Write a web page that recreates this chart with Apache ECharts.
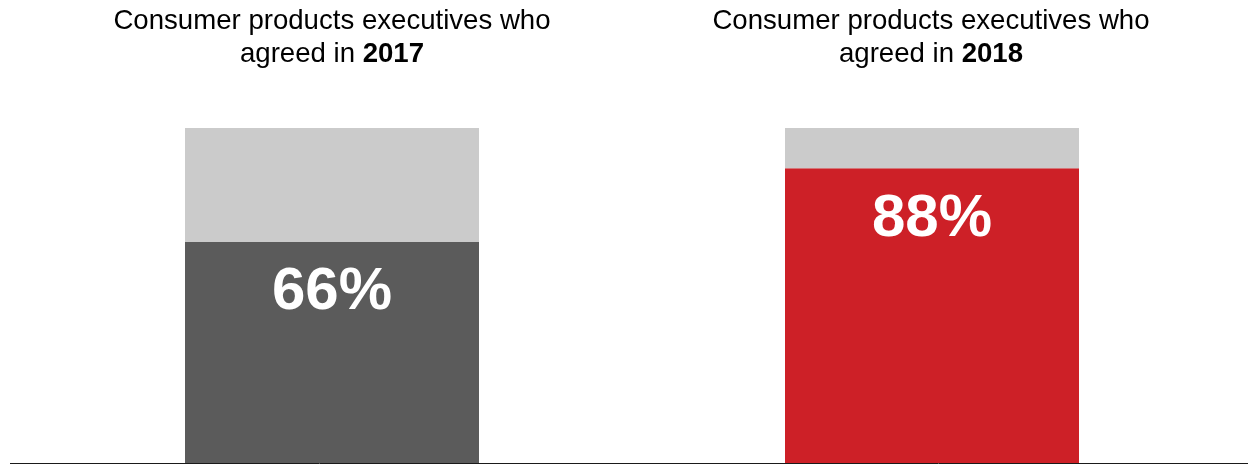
<!DOCTYPE html>
<html>
<head>
<meta charset="utf-8">
<script src="https://cdn.jsdelivr.net/npm/echarts@6/dist/echarts.min.js"></script>
<style>
  html, body { margin: 0; padding: 0; background: #fff; }
  #chart { width: 1248px; height: 464px; }
</style>
</head>
<body>
<div id="chart"></div>
<script>
var years = ['2017', '2018'];
var agreed = [66, 88];
var total = 100;
var barColors = ['#5b5b5b', '#cd2027'];

var rest = [];
for (var i = 0; i < agreed.length; i++) {
	rest[i] = total - agreed[i];
}

var myChart = echarts.init(document.getElementById('chart'));
var option = {
	animation: false,
	title: years.map(function (y, i) {
		return {
			text: 'Consumer products executives who\nagreed in {b|' + y + '}',
			left: 327 + i * 599,
			top: 0,
			textAlign: 'center',
			textStyle: {
				fontFamily: 'Liberation Sans, Arial',
				fontSize: 27.6,
				fontWeight: 'normal',
				color: '#000',
				lineHeight: 33,
				rich: {
					b: { fontFamily: 'Liberation Sans, Arial', fontSize: 27.6, fontWeight: 'bold', color: '#000', lineHeight: 33 }
				}
			}
		};
	}),
	grid: { left: 32, right: 16, top: 128, bottom: 1 },
	xAxis: {
		type: 'category',
		data: years,
		axisLine: { show: false },
		axisTick: { show: false },
		axisLabel: { show: false }
	},
	yAxis: {
		type: 'value',
		min: 0,
		max: total,
		show: false
	},
	graphic: [{
		type: 'line',
		shape: { x1: 10, y1: 463.5, x2: 1248, y2: 463.5 },
		style: { stroke: '#1a1a1a', lineWidth: 1 },
		z: 10
	}],
	series: [
		{
			name: 'agreed',
			type: 'bar',
			stack: 'all',
			barWidth: 294,
			data: agreed.map(function (v, i) {
				return { value: v, itemStyle: { color: barColors[i] } };
			}),
			label: {
				show: true,
				position: 'insideTop',
				distance: 21,
				formatter: '{c}%',
				color: '#fff',
				fontFamily: 'Liberation Sans, Arial',
				fontWeight: 'bold',
				fontSize: 60
			}
		},
		{
			name: 'rest',
			type: 'bar',
			stack: 'all',
			barWidth: 294,
			data: rest,
			itemStyle: { color: '#cbcbcb' }
		}
	]
};
myChart.setOption(option);
</script>
</body>
</html>
